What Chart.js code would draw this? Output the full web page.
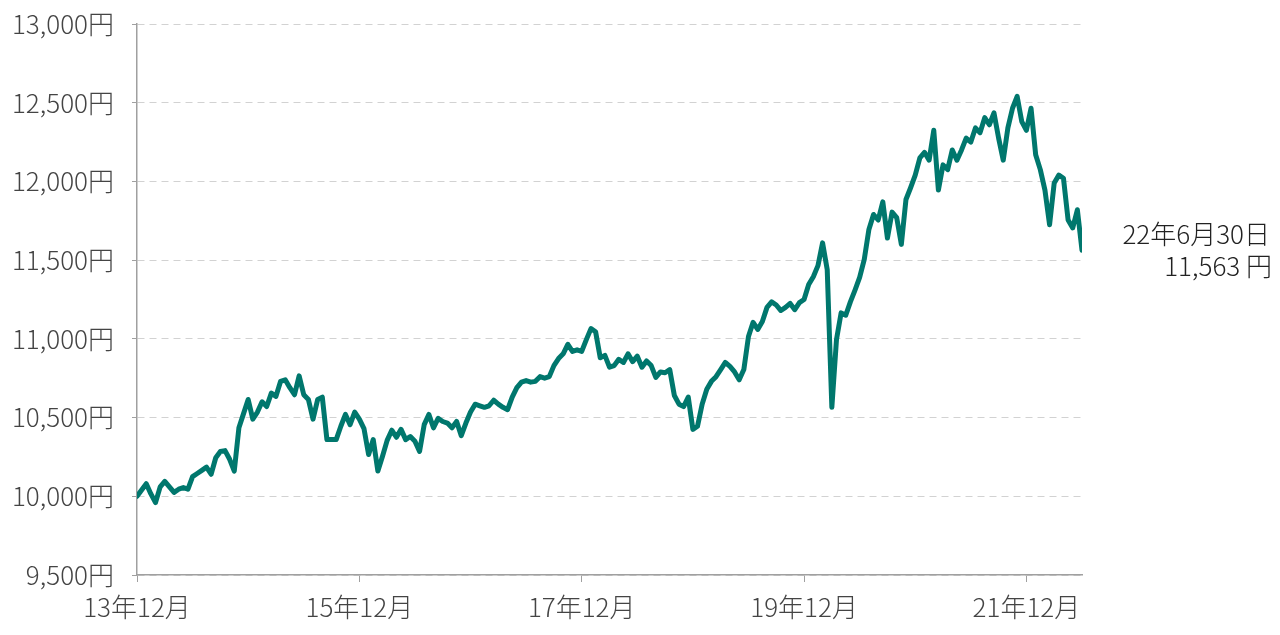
<!DOCTYPE html>
<html>
<head>
<meta charset="utf-8">
<script src="https://cdn.jsdelivr.net/npm/chart.js@4.4.1/dist/chart.umd.min.js"></script>
<style>
  html, body { margin: 0; padding: 0; background: #fff; }
  #wrap { width: 1280px; height: 635px; }
</style>
</head>
<body>
<div id="wrap"><canvas id="navChart"></canvas></div>
<script>
// 基準価額 (円), half-month steps from 2013/12 to 2022/06/30
const navValues = [
  10000, 10040, 10080, 10015, 9960, 10060, 10095, 10060, 10025, 10045, 10055, 10045,
  10125, 10145, 10165, 10185, 10140, 10245, 10285, 10290, 10235, 10160, 10435, 10525,
  10615, 10490, 10535, 10600, 10570, 10655, 10635, 10730, 10740, 10690, 10645, 10765,
  10645, 10615, 10490, 10615, 10630, 10360, 10360, 10360, 10445, 10520, 10455, 10535,
  10490, 10430, 10265, 10360, 10160, 10255, 10355, 10420, 10375, 10425, 10360, 10380,
  10350, 10285, 10455, 10520, 10435, 10495, 10475, 10465, 10435, 10475, 10385, 10465,
  10535, 10585, 10575, 10565, 10575, 10610, 10585, 10565, 10550, 10630, 10690, 10725,
  10735, 10725, 10730, 10760, 10750, 10760, 10830, 10875, 10905, 10965, 10920, 10930,
  10920, 10995, 11065, 11045, 10880, 10895, 10820, 10830, 10870, 10850, 10905, 10855,
  10890, 10820, 10860, 10830, 10755, 10790, 10785, 10805, 10640, 10585, 10570, 10630,
  10425, 10445, 10585, 10680, 10730, 10760, 10805, 10850, 10825, 10790, 10740, 10805,
  11015, 11105, 11060, 11110, 11200, 11235, 11215, 11180, 11200, 11225, 11185, 11230,
  11250, 11345, 11395, 11465, 11610, 11440, 10565, 10995, 11165, 11150, 11235, 11310,
  11390, 11505, 11695, 11790, 11755, 11870, 11640, 11805, 11770, 11600, 11885, 11960,
  12040, 12150, 12185, 12135, 12325, 11945, 12105, 12075, 12200, 12135, 12200, 12275,
  12250, 12340, 12310, 12405, 12360, 12435, 12275, 12135, 12340, 12465, 12540, 12380,
  12325, 12465, 12170, 12075, 11945, 11725, 11990, 12040, 12020, 11755, 11705, 11820,
  11563
];
const stepMonths = 0.5;
const tickMonths = [0, 24, 48, 72, 96];
const tickLabels = ['13年12月', '15年12月', '17年12月', '19年12月', '21年12月'];
const yMin = 9500;
const yMax = 13000;
const yStep = 500;
const endDateLabel = '22年6月30日';
const endValueLabel = '11,563 円';

const FONT = '"Noto Sans CJK JP", "Noto Sans", sans-serif';

const points = navValues.map((v, i) => ({ x: i * stepMonths, y: v }));

// 最終日のラベル
const endLabel = {
  id: 'endLabel',
  afterDraw(chart) {
    const { ctx, scales } = chart;
    const y = scales.y.getPixelForValue(navValues[navValues.length - 1]);
    ctx.save();
    ctx.font = '300 26px ' + FONT;
    ctx.fillStyle = '#222';
    ctx.textAlign = 'right';
    ctx.textBaseline = 'middle';
    ctx.fillText(endDateLabel, chart.width - 10, y - 16);
    ctx.fillText(endValueLabel, chart.width - 8, y + 16);
    ctx.restore();
  }
};

new Chart(document.getElementById('navChart'), {
  type: 'line',
  data: {
    datasets: [{
      data: points,
      borderColor: '#00776d',
      borderWidth: 5,
      borderJoinStyle: 'round',
      borderCapStyle: 'round',
      pointRadius: 0,
      tension: 0,
      fill: false
    }]
  },
  options: {
    responsive: true,
    maintainAspectRatio: false,
    animation: false,
    layout: { padding: { left: 0, right: 198, top: 24, bottom: 0 } },
    plugins: {
      legend: { display: false },
      tooltip: { enabled: false }
    },
    scales: {
      x: {
        type: 'linear',
        min: 0,
        max: (navValues.length - 1) * stepMonths,
        afterBuildTicks(scale) {
          scale.ticks = tickMonths.map(v => ({ value: v }));
        },
        afterFit(scale) { scale.height = 60; },
        ticks: {
          autoSkip: false,
          maxRotation: 0,
          padding: 10,
          color: '#444',
          font: { family: FONT, size: 26, weight: '300' },
          callback: (v) => tickLabels[tickMonths.indexOf(v)]
        },
        grid: {
          drawOnChartArea: false,
          drawTicks: true,
          tickLength: 7,
          tickColor: '#a0a0a0'
        },
        border: { display: true, color: '#a0a0a0', width: 1.5 }
      },
      y: {
        min: yMin,
        max: yMax,
        afterFit(scale) {
          scale.width = 137;
          scale.paddingTop = 0;
          scale.paddingBottom = 0;
        },
        ticks: {
          stepSize: yStep,
          padding: 18,
          color: '#444',
          font: { family: FONT, size: 26, weight: '300' },
          callback: (v) => v.toLocaleString('en-US') + '円'
        },
        grid: {
          color: '#d2d2d2',
          lineWidth: 1,
          tickLength: 5,
          tickColor: '#a0a0a0',
          tickBorderDash: []
        },
        border: { display: true, color: '#a0a0a0', width: 1.5, dash: [7, 5] }
      }
    }
  },
  plugins: [endLabel]
});
</script>
</body>
</html>
